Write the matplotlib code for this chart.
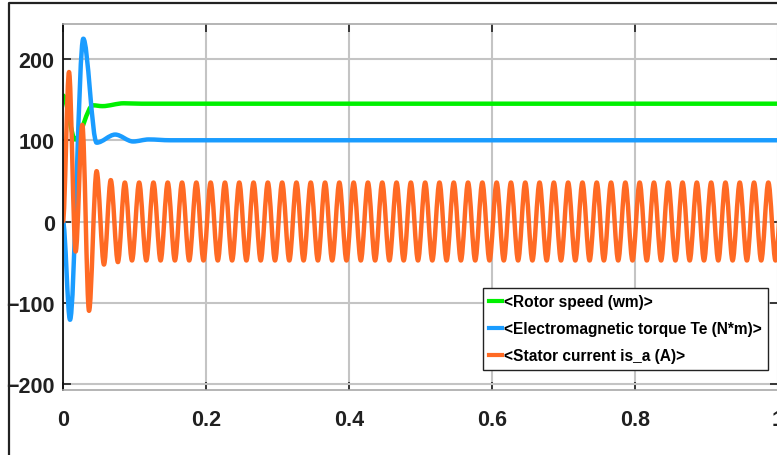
import numpy as np
import matplotlib
matplotlib.use('Agg')
import matplotlib.pyplot as plt
from matplotlib.path import Path
from matplotlib.patches import PathPatch
from matplotlib.lines import Line2D

plt.rcParams['font.family'] = ['Liberation Sans', 'DejaVu Sans']
plt.rcParams['font.weight'] = 'bold'

# turning points (time in s, value)
speed_t = [0.0, 0.017, 0.042, 0.055, 0.085, 0.11, 1.0]
speed_v = [155, 101, 143, 142, 145.5, 145, 145]

torque_t = [0.0, 0.0098, 0.0284, 0.047, 0.073, 0.098, 0.12, 0.15, 1.0]
torque_v = [0, -121, 225, 97, 107, 98.5, 101, 100, 100]

# stator current: start-up peaks, then a steady 50 Hz swing of +/-48 A
current_t = [0.0, 0.0084, 0.0177, 0.027, 0.0364, 0.047, 0.0573, 0.0668, 0.0768]
current_v = [0, 184, -37, 119, -110, 62, -53, 51, -50]
steady_first_peak = 0.0865
steady_period = 0.02
steady_amp = 48
steady_last = 1.02

for tp in np.arange(steady_first_peak, steady_last, steady_period):
    current_t += [tp, tp + steady_period / 2]
    current_v += [steady_amp, -steady_amp]

labels = ['<Rotor speed (wm)>', '<Electromagnetic torque Te (N*m)>', '<Stator current is_a (A)>']
colors = ['#00f000', '#1a9cff', '#ff6a24']
xticks = [0, 0.2, 0.4, 0.6, 0.8, 1]
xticklabels = ['0', '0.2', '0.4', '0.6', '0.8', '1']
yticks = [-200, -100, 0, 100, 200]


def smooth_path(t, v):
    # cubic segments with flat tangents at every turning point
    verts = [(t[0], v[0])]
    codes = [Path.MOVETO]
    for i in range(len(t) - 1):
        dt = t[i + 1] - t[i]
        verts += [(t[i] + dt / 3, v[i]), (t[i + 1] - dt / 3, v[i + 1]), (t[i + 1], v[i + 1])]
        codes += [Path.CURVE4] * 3
    return Path(verts, codes)


fig = plt.figure(figsize=(7.77, 4.56), dpi=100)
ax = fig.add_axes([63 / 777, 1 - 391 / 456, 715 / 777, 366 / 456])

for (t, v), c in zip([(speed_t, speed_v), (torque_t, torque_v), (current_t, current_v)], colors):
    ax.add_patch(PathPatch(smooth_path(t, v), fill=False, edgecolor=c, lw=3.2,
                           capstyle='round', joinstyle='round'))

ax.set_xlim(0, 1)
ax.set_ylim(-207.4, 243.1)
ax.set_xticks(xticks)
ax.set_xticklabels(xticklabels)
ax.set_yticks(yticks)
ax.grid(True, color='#c4c4c4', lw=1.5)
ax.set_axisbelow(True)
ax.tick_params(direction='in', length=5.5, width=1.1, color='#111111',
               top=True, right=True, labelsize=15.5)
ax.tick_params(axis='x', pad=14)
ax.tick_params(axis='y', pad=6)
for lab in ax.get_xticklabels() + ax.get_yticklabels():
    lab.set_fontweight('bold')
    lab.set_color('#202020')
for s in ['top', 'right', 'bottom']:
    ax.spines[s].set_color('#a8a8a8')
    ax.spines[s].set_linewidth(1.2)
ax.spines['left'].set_color('#111111')
ax.spines['left'].set_linewidth(1.3)

handles = [Line2D([], [], color=c, lw=3) for c in colors]
leg = ax.legend(handles, labels, loc='upper left',
                bbox_to_anchor=(483 / 777, 1 - 289 / 456), bbox_transform=fig.transFigure,
                borderaxespad=0, fancybox=False, framealpha=1, edgecolor='#222222',
                prop={'size': 11.2, 'weight': 'bold'}, handlelength=0.8, handletextpad=0.12,
                borderpad=0.4, labelspacing=0.78)
leg.get_frame().set_linewidth(1.0)

# outer frame of the scope window
fig.add_artist(Line2D([9 / 777, 9 / 777, 1.0], [0, 1 - 4 / 456, 1 - 4 / 456],
                      transform=fig.transFigure, color='#222222', lw=1.6))

fig.savefig('out.png', dpi=100)
